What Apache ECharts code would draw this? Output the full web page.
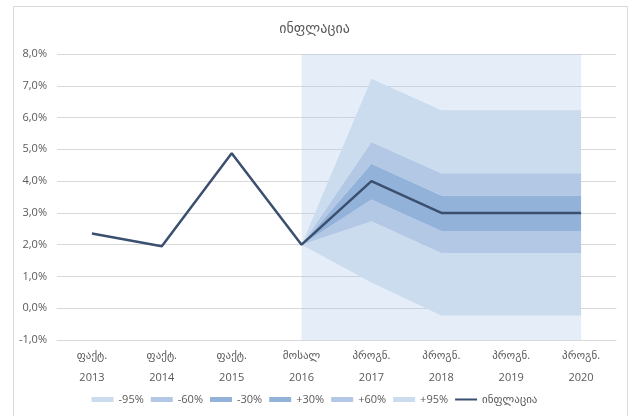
<!DOCTYPE html>
<html>
<head>
    <meta charset="utf-8">
    <title>ინფლაცია</title>
    <script src="https://cdn.jsdelivr.net/npm/echarts@6/dist/echarts.min.js"></script>
    <style>
        body { margin: 0; background: #fff; }
    </style>
</head>
<body>
<div id="chart" style="width: 629px; height: 416px;"></div>

<script>
    // კატეგორიები
    var years = ['2013', '2014', '2015', '2016', '2017', '2018', '2019', '2020'];
    var kinds = ['ფაქტ.', 'ფაქტ.', 'ფაქტ.', 'მოსალ', 'პროგნ.', 'პროგნ.', 'პროგნ.', 'პროგნ.'];

    // ინფლაცია, %
    var inflation = [2.35, 1.95, 4.88, 2.0, 4.0, 3.0, 3.0, 3.0];

    // fan chart bounds, %
    var lo95 = ['-', '-', '-', 2.0, 0.81, -0.23, -0.23, -0.23];
    var lo60 = ['-', '-', '-', 2.0, 2.74, 1.74, 1.74, 1.74];
    var lo30 = ['-', '-', '-', 2.0, 3.42, 2.43, 2.43, 2.43];
    var hi30 = ['-', '-', '-', 2.0, 4.55, 3.55, 3.55, 3.55];
    var hi60 = ['-', '-', '-', 2.0, 5.23, 4.25, 4.25, 4.25];
    var hi95 = ['-', '-', '-', 2.0, 7.22, 6.23, 6.23, 6.23];

    var font = "'Open Sans', 'DejaVu Sans', sans-serif";
    var textColor = '#595959';

    function diff(a, b) {
        return a.map(function (v, i) {
            if (v === '-' || b[i] === '-') return '-';
            return +(v - b[i]).toFixed(3);
        });
    }
    var center = inflation.map(function (v, i) { return lo95[i] === '-' ? '-' : v; });

    var bands = [
        { name: '-95%', data: diff(lo60, lo95), color: '#cbdcee' },
        { name: '-60%', data: diff(lo30, lo60), color: '#b2c8e4' },
        { name: '-30%', data: diff(center, lo30), color: '#92b2da' },
        { name: '+30%', data: diff(hi30, center), color: '#92b2da' },
        { name: '+60%', data: diff(hi60, hi30), color: '#b2c8e4' },
        { name: '+95%', data: diff(hi95, hi60), color: '#cbdcee' }
    ];

    var series = [{
        name: 'base',
        type: 'line',
        stack: 'fan',
        stackStrategy: 'all',
        symbol: 'none',
        lineStyle: { opacity: 0 },
        data: lo95,
        silent: true,
        markArea: {
            silent: true,
            itemStyle: { color: 'rgba(170,198,232,0.3)' },
            data: [[{ coord: ['2016', 8] }, { coord: ['2020', -1] }]]
        }
    }];
    bands.forEach(function (b) {
        series.push({
            name: b.name,
            type: 'line',
            stack: 'fan',
            stackStrategy: 'all',
            symbol: 'none',
            lineStyle: { opacity: 0 },
            itemStyle: { color: b.color },
            areaStyle: { color: b.color, opacity: 1 },
            data: b.data
        });
    });
    series.push({
        name: 'ინფლაცია',
        type: 'line',
        symbol: 'none',
        z: 5,
        lineStyle: { color: '#3b4f6e', width: 2.5 },
        itemStyle: { color: '#3b4f6e' },
        data: inflation
    });

    var legendData = bands.map(function (b) { return { name: b.name, icon: 'rect' }; });
    // thin bar for the line item (degenerate points keep the 22x5 box)
    legendData.push({
        name: 'ინფლაცია',
        icon: 'path://M0,0 L0,0 M0,1.5 L22,1.5 L22,3.5 L0,3.5 Z M22,5 L22,5'
    });

    var chart = echarts.init(document.getElementById('chart'));
    chart.setOption({
        animation: false,
        textStyle: { fontFamily: font },
        graphic: [{
            type: 'rect',
            shape: { x: 13.5, y: 6.5, width: 614, height: 420 },
            style: { fill: 'none', stroke: '#d9d9d9', lineWidth: 1 },
            silent: true
        }],
        title: {
            text: 'ინფლაცია',
            left: 'center',
            top: 17,
            textStyle: { fontFamily: font, fontSize: 14, fontWeight: 'normal', color: textColor }
        },
        legend: {
            data: legendData,
            bottom: 6,
            left: 'center',
            itemWidth: 22,
            itemHeight: 5,
            itemGap: 7,
            textStyle: { fontFamily: font, fontSize: 11, color: textColor }
        },
        grid: { left: 57, right: 13, top: 54, bottom: 76 },
        xAxis: [{
            type: 'category',
            data: years,
            boundaryGap: true,
            axisLine: { onZero: false, lineStyle: { color: '#d9d9d9' } },
            axisTick: { interval: 0, length: 44, lineStyle: { color: '#d9d9d9' } },
            axisLabel: {
                interval: 0,
                margin: 5,
                lineHeight: 22,
                fontSize: 11,
                color: textColor,
                formatter: function (v, i) { return kinds[i] + '\n' + v; }
            }
        }, {
            type: 'category',
            data: years,
            boundaryGap: true,
            axisLine: { onZero: true, lineStyle: { color: '#d9d9d9' } },
            axisTick: { interval: 0, length: 4, lineStyle: { color: '#d9d9d9' } },
            axisLabel: { show: false }
        }],
        yAxis: {
            type: 'value',
            min: -1,
            max: 8,
            interval: 1,
            axisLine: { show: false },
            axisTick: { show: false },
            splitLine: { lineStyle: { color: '#d9d9d9' } },
            axisLabel: {
                margin: 10,
                fontSize: 11,
                color: textColor,
                formatter: function (v) { return v.toFixed(1).replace('.', ',') + '%'; }
            }
        },
        series: series
    });
</script>
</body>
</html>
